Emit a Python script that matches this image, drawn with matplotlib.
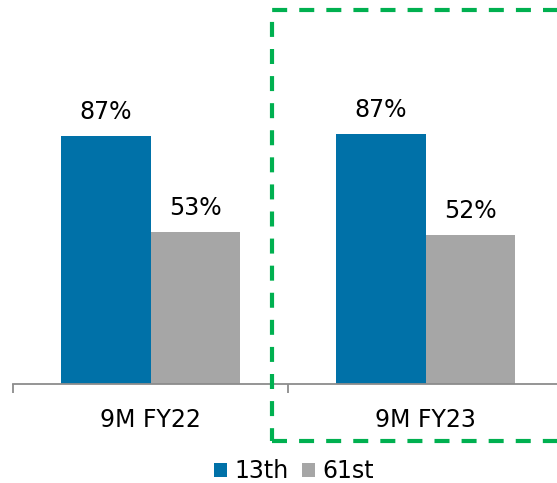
import matplotlib
matplotlib.use("Agg")
import matplotlib.pyplot as plt
import matplotlib.patches as mpatches
import numpy as np

categories = ["9M FY22", "9M FY23"]
series_names = ["13th", "61st"]
values_13th = [86.7, 87.4]
values_61st = [53.2, 52.1]
labels_13th = ["87%", "87%"]
labels_61st = ["53%", "52%"]

blue = "#0071A8"
grey = "#A6A6A6"
green = "#00B050"

W, H = 557, 483
fig = plt.figure(figsize=(W / 100, H / 100), dpi=100)

# axes cropped on the right, as in the source picture
ax_left, ax_right = 13 / W, 563 / W
ax_bottom = (H - 384) / H
ax_height = 286 / H
ax = fig.add_axes([ax_left, ax_bottom, ax_right - ax_left, ax_height])

x = np.arange(len(categories))
w = 0.327
b1 = ax.bar(x - w / 2, values_13th, w, color=blue, label=series_names[0])
b2 = ax.bar(x + w / 2, values_61st, w, color=grey, label=series_names[1])

for rect, txt in zip(b1, labels_13th):
    ax.text(rect.get_x() + rect.get_width() / 2, rect.get_height() + 4.3, txt,
            ha="center", va="bottom", fontsize=17, color="black")
for rect, txt in zip(b2, labels_61st):
    ax.text(rect.get_x() + rect.get_width() / 2, rect.get_height() + 4.3, txt,
            ha="center", va="bottom", fontsize=17, color="black")

ax.set_xlim(-0.5, 1.5)
ax.set_ylim(0, 100)
ax.set_yticks([])
for s in ["top", "right", "left"]:
    ax.spines[s].set_visible(False)
ax.spines["bottom"].set_color("#8C8C8C")
ax.spines["bottom"].set_linewidth(1.3)

ax.set_xticks([-0.5, 0.5, 1.5])
ax.set_xticklabels([])
ax.tick_params(axis="x", which="major", length=6.5, width=1.3, color="#8C8C8C", direction="out")
ax.set_xticks(x, minor=True)
ax.set_xticklabels(categories, minor=True, fontsize=17)
ax.tick_params(axis="x", which="minor", length=0, pad=17)
ax.patch.set_alpha(0)

# green dashed highlight box
rect = mpatches.Rectangle((272 / W, (H - 441) / H), 300 / W, 431 / H,
                          transform=fig.transFigure, fill=False,
                          edgecolor=green, linewidth=3, linestyle=(0, (3.6, 2.9)),
                          clip_on=False)
fig.patches.append(rect)

fig.legend(handles=[b1, b2], labels=series_names, loc="center",
           bbox_to_anchor=(294 / W, (H - 471) / H), ncol=2, frameon=False,
           fontsize=17, handlelength=0.55, handleheight=0.55, handletextpad=0.3,
           columnspacing=0.6, borderaxespad=0)

fig.savefig("out.png", dpi=100)
